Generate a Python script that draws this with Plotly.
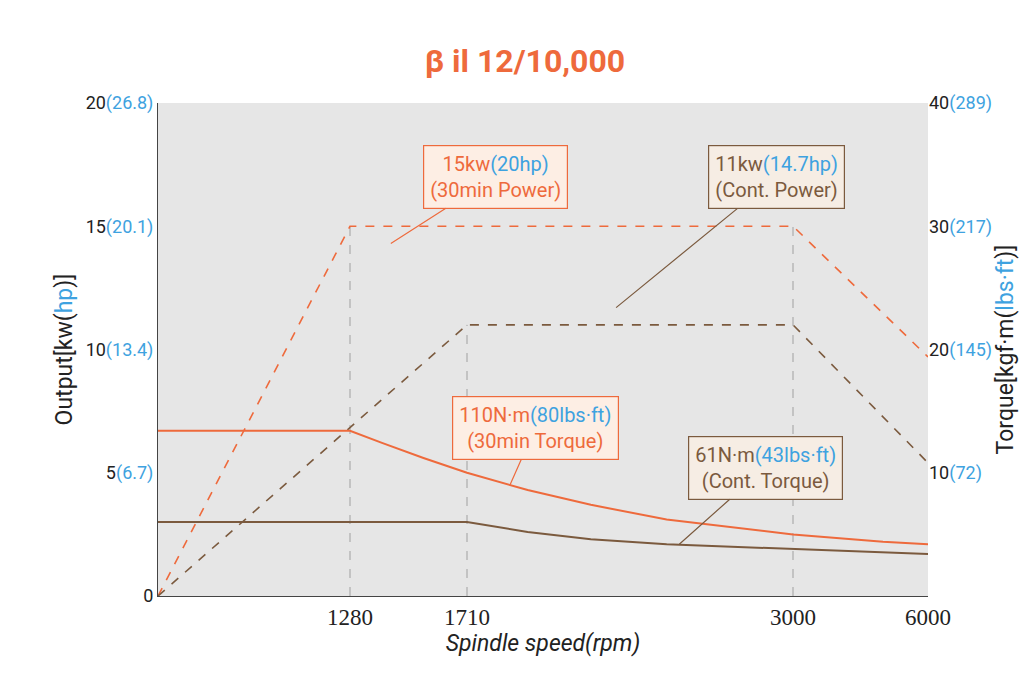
import plotly.graph_objects as go

# rpm break points and their display positions (axis is not linear in rpm)
rpm_marks = [0, 1280, 1710, 3000, 6000]
pos_marks = [0, 192, 309, 635, 770]

def xp(r):
    for i in range(len(rpm_marks) - 1):
        r0, r1 = rpm_marks[i], rpm_marks[i + 1]
        if r <= r1:
            p0, p1 = pos_marks[i], pos_marks[i + 1]
            return p0 + (r - r0) / (r1 - r0) * (p1 - p0)
    return pos_marks[-1]

pw30_rpm = [0, 1280, 3000, 6000]
pw30_kw = [0, 15, 15, 9.7]
pwc_rpm = [0, 1710, 3000, 6000]
pwc_kw = [0, 11, 11, 5.4]
tq30_rpm = [0, 1280, 1400, 1550, 1710, 1950, 2200, 2500, 3000, 4000, 5000, 6000]
tq30_val = [6.7, 6.7, 6.2, 5.6, 5.0, 4.3, 3.7, 3.1, 2.5, 2.35, 2.2, 2.1]
tqc_rpm = [0, 1710, 1950, 2200, 2500, 3000, 4500, 6000]
tqc_val = [3.0, 3.0, 2.6, 2.3, 2.1, 1.9, 1.8, 1.7]
vlines_rpm = [1280, 1710, 3000]
vlines_top = [15, 11, 15]

left_vals = [0, 5, 10, 15, 20]
left_hp = ["", "6.7", "13.4", "20.1", "26.8"]
right_vals = [10, 20, 30, 40]
right_lbs = ["72", "145", "217", "289"]

ORANGE = "#ee6a3c"
BROWN = "#7b5a3e"
BLUE = "#3ea2e0"
GRID = "#a0a0a0"
FONT = "Roboto, Liberation Sans, sans-serif"

fig = go.Figure()
for r, t in zip(vlines_rpm, vlines_top):
    fig.add_trace(go.Scatter(x=[xp(r), xp(r)], y=[0, t], mode="lines",
                             line=dict(color=GRID, width=1, dash="dash"), hoverinfo="skip"))
fig.add_trace(go.Scatter(x=[xp(r) for r in pw30_rpm], y=pw30_kw, mode="lines",
                         line=dict(color=ORANGE, width=1.6, dash="dash")))
fig.add_trace(go.Scatter(x=[xp(r) for r in pwc_rpm], y=pwc_kw, mode="lines",
                         line=dict(color=BROWN, width=1.6, dash="dash")))
fig.add_trace(go.Scatter(x=[xp(r) for r in tq30_rpm], y=tq30_val, mode="lines",
                         line=dict(color=ORANGE, width=2)))
fig.add_trace(go.Scatter(x=[xp(r) for r in tqc_rpm], y=tqc_val, mode="lines",
                         line=dict(color=BROWN, width=2)))
fig.add_trace(go.Scatter(x=[0], y=[0], yaxis="y2", mode="markers",
                         marker=dict(opacity=0), hoverinfo="skip"))

left_text = [f"{v}" + (f"<span style='color:{BLUE}'>({h})</span>" if h else "")
             for v, h in zip(left_vals, left_hp)]
right_text = [f"{v}<span style='color:{BLUE}'>({h})</span>" for v, h in zip(right_vals, right_lbs)]

boxes = [
    (1430, 14.3, 337, 17.0, f"15kw<span style='color:{BLUE}'>(20hp)</span><br>(30min Power)", ORANGE, "#fdeee4"),
    (2300, 11.7, 618, 17.0, f"11kw<span style='color:{BLUE}'>(14.7hp)</span><br>(Cont. Power)", BROWN, "#f6ede4"),
    (1880, 4.5, 377, 6.8, f"110N·m<span style='color:{BLUE}'>(80lbs·ft)</span><br>(30min Torque)", ORANGE, "#fdeee4"),
    (2550, 2.1, 607, 5.2, f"61N·m<span style='color:{BLUE}'>(43lbs·ft)</span><br>(Cont. Torque)", BROWN, "#f6ede4"),
]
for tr, ty, bx, by, txt, col, bg in boxes:
    fig.add_annotation(x=xp(tr), y=ty, ax=bx, ay=by, axref="x", ayref="y",
                       text=txt, showarrow=True, arrowhead=0, arrowwidth=1.2,
                       arrowcolor=col, bordercolor=col, borderwidth=1.2, borderpad=6,
                       bgcolor=bg, font=dict(family=FONT, size=20, color=col))

fig.update_layout(
    width=1034, height=696, showlegend=False,
    paper_bgcolor="white", plot_bgcolor="#e6e6e6",
    margin=dict(l=150, r=114, t=95, b=108),
    title=dict(text="<b>β il 12/10,000</b>", x=0.5, y=0.94, xanchor="center",
               font=dict(family=FONT, size=32, color=ORANGE)),
    font=dict(family=FONT, size=18, color="#222"),
    xaxis=dict(range=[0, 770], tickvals=pos_marks[1:], ticktext=[str(r) for r in rpm_marks[1:]],
               showgrid=False, zeroline=False, showline=True, linecolor="#444",
               ticks="", tickfont=dict(family="Liberation Serif, serif", size=23),
               title=dict(text="<i>Spindle speed(rpm)</i>", font=dict(size=23), standoff=5)),
    yaxis=dict(range=[0, 20], tickvals=left_vals, ticktext=left_text, showgrid=False,
               zeroline=False, showline=True, linecolor="#444", ticks="",
               title=dict(text=f"Output[kw(<span style='color:{BLUE}'>hp</span>)]",
                          font=dict(size=23), standoff=6)),
    yaxis2=dict(range=[0, 40], overlaying="y", side="right", tickvals=right_vals,
                ticktext=right_text, showgrid=False, zeroline=False, ticks="",
                title=dict(text=f"Torque[kgf·m(<span style='color:{BLUE}'>lbs·ft</span>)]",
                           font=dict(size=23), standoff=4)),
)

fig.write_html("out.html")
